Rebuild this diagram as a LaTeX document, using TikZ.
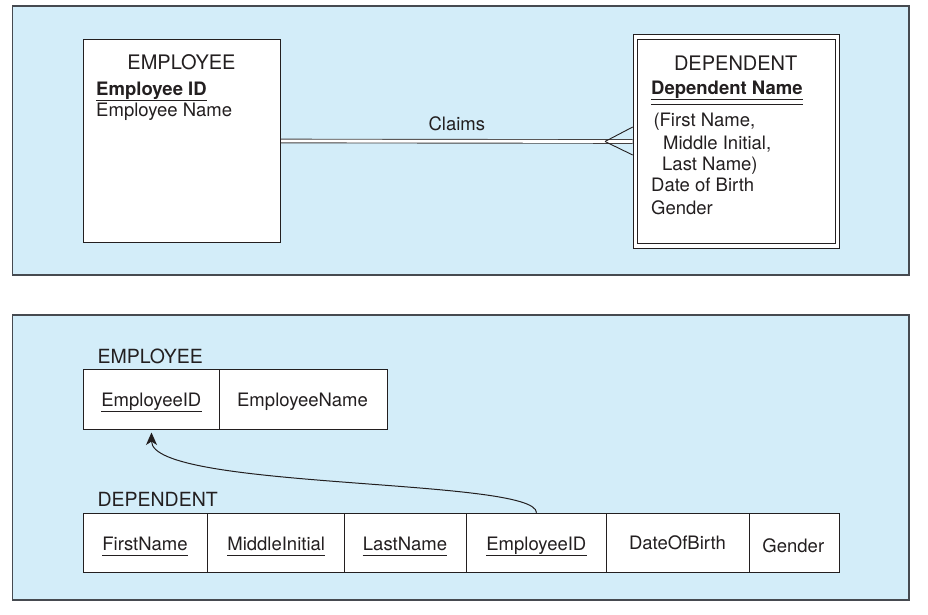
\documentclass[tikz,border=0pt]{standalone}
\usepackage{fontspec}
\setmainfont{TeX Gyre Heros}
\usetikzlibrary{calc,arrows.meta}
\definecolor{panelbg}{RGB}{211,237,249}
\definecolor{panelline}{RGB}{70,74,80}
\definecolor{ink}{RGB}{35,31,32}
\begin{document}
\begin{tikzpicture}[x=1pt,y=-1pt,
  panel/.style={draw=panelline, line width=1.4pt, fill=panelbg},
  box/.style={draw=ink, line width=1pt, fill=white, inner sep=0pt, anchor=north west},
  frame/.style={draw=ink, line width=1pt, inner sep=0pt, anchor=north west},
  txt/.style={inner sep=0pt, text=ink, font=\fontsize{18.5}{22}\selectfont},
  ttl/.style={inner sep=0pt, text=ink, font=\fontsize{20}{24}\selectfont},
  lbl/.style={inner sep=0pt, text=ink, font=\fontsize{19.5}{23}\selectfont},
  uline/.style={draw=ink, line width=0.9pt},
  dline/.style={draw=ink, line width=1.2pt},
  rel/.style={draw=ink!85, line width=0.9pt, double=white, double distance=2.8pt},
  crow/.style={draw=ink, line width=0.9pt},
  fk/.style={draw=ink, line width=1pt, -{Stealth[length=12.5pt,width=11pt,inset=3.5pt]}, shorten >=2.5pt},
]
\useasboundingbox (0,0) rectangle (928,614);
% panels
\path[panel] (12.7,6) rectangle (909,275);
\path[panel] (12.7,315) rectangle (909,600);

% ---------- top: E-R diagram ----------
\node[box, minimum width=197.3pt, minimum height=202.4pt] (emp) at (82.7,39.3) {};
\node[ttl, anchor=base] (empT) at (181.5,69.3) {EMPLOYEE};
\node[txt, anchor=base west] (empID) at (96,95.3) {\bfseries Employee ID};
\draw[uline] ($(empID.base west)+(0,4.7)$) -- ($(empID.base east)+(0,4.7)$);
\node[txt, anchor=base west] (empNm) at (96,116.7) {Employee Name};

\node[box, minimum width=206.3pt, minimum height=213.4pt] (dep) at (632.7,34.3) {};
\node[frame, minimum width=198pt, minimum height=203.7pt] (depin) at (637,39) {};
\node[ttl, anchor=base] (depT) at (735.7,70) {DEPENDENT};
\node[txt, anchor=base west] (depNm) at (651,94) {\bfseries Dependent Name};
\draw[dline] ($(depNm.base west)+(0,5.3)$) -- ($(depNm.base east)+(0,5.3)$);
\draw[dline] ($(depNm.base west)+(0,10.3)$) -- ($(depNm.base east)+(0,10.3)$);
\node[txt, anchor=base west] (depA1) at (653.3,126) {(First Name,};
\node[txt, anchor=base west] (depA2) at (663,149) {Middle Initial,};
\node[txt, anchor=base west] (depA3) at (662,170.7) {Last Name)};
\node[txt, anchor=base west] (depA4) at (651,191.7) {Date of Birth};
\node[txt, anchor=base west] (depA5) at (651,214) {Gender};

\draw[rel] (emp.east) -- node[txt, above=10pt] (claims) {Claims} (dep.west);
\coordinate (cf) at ($(dep.west)+(-27.7,0)$);
\draw[crow] (cf) -- ($(dep.west)+(0,-14.5)$);
\draw[crow] (cf) -- ($(dep.west)+(0,13.5)$);

% ---------- bottom: relations ----------
\node[lbl, anchor=base west] (empL) at (97.3,363.3) {EMPLOYEE};
\node[box, minimum width=136.6pt, minimum height=59.7pt] (e1) at (82.7,369.3) {};
\node[box, minimum width=167.4pt, minimum height=59.7pt] (e2) at (219.3,369.3) {};
\node[txt, anchor=base] (e1t) at (151.3,406.7) {EmployeeID};
\draw[uline] ($(e1t.base west)+(0,5)$) -- ($(e1t.base east)+(0,5)$);
\node[txt, anchor=base] (e2t) at (302.5,406.7) {EmployeeName};

\node[lbl, anchor=base west] (depL) at (97.3,506) {DEPENDENT};
\node[box, minimum width=124pt, minimum height=59.6pt] (d1) at (82.7,512.7) {};
\node[box, minimum width=137.6pt, minimum height=59.6pt] (d2) at (206.7,512.7) {};
\node[box, minimum width=122pt, minimum height=59.6pt] (d3) at (344.3,512.7) {};
\node[box, minimum width=139.4pt, minimum height=59.6pt] (d4) at (466.3,512.7) {};
\node[box, minimum width=143.6pt, minimum height=59.6pt] (d5) at (605.7,512.7) {};
\node[box, minimum width=89.7pt, minimum height=59.6pt] (d6) at (749.3,512.7) {};
\node[txt, anchor=base] (d1t) at (145,550) {FirstName};
\node[txt, anchor=base] (d2t) at (276.2,550) {MiddleInitial};
\node[txt, anchor=base] (d3t) at (405,550) {LastName};
\node[txt, anchor=base] (d4t) at (536.3,550) {EmployeeID};
\node[txt, anchor=base] (d5t) at (677.5,549) {DateOfBirth};
\node[txt, anchor=base] (d6t) at (793.3,552.5) {Gender};
\foreach \t in {d1t,d2t,d3t,d4t}{
  \draw[uline] ($(\t.base west)+(0,5)$) -- ($(\t.base east)+(0,5)$);
}
\draw[fk] (d4.north) .. controls +(0,-35) and +(0,60) .. (e1.south);
\end{tikzpicture}
\end{document}
